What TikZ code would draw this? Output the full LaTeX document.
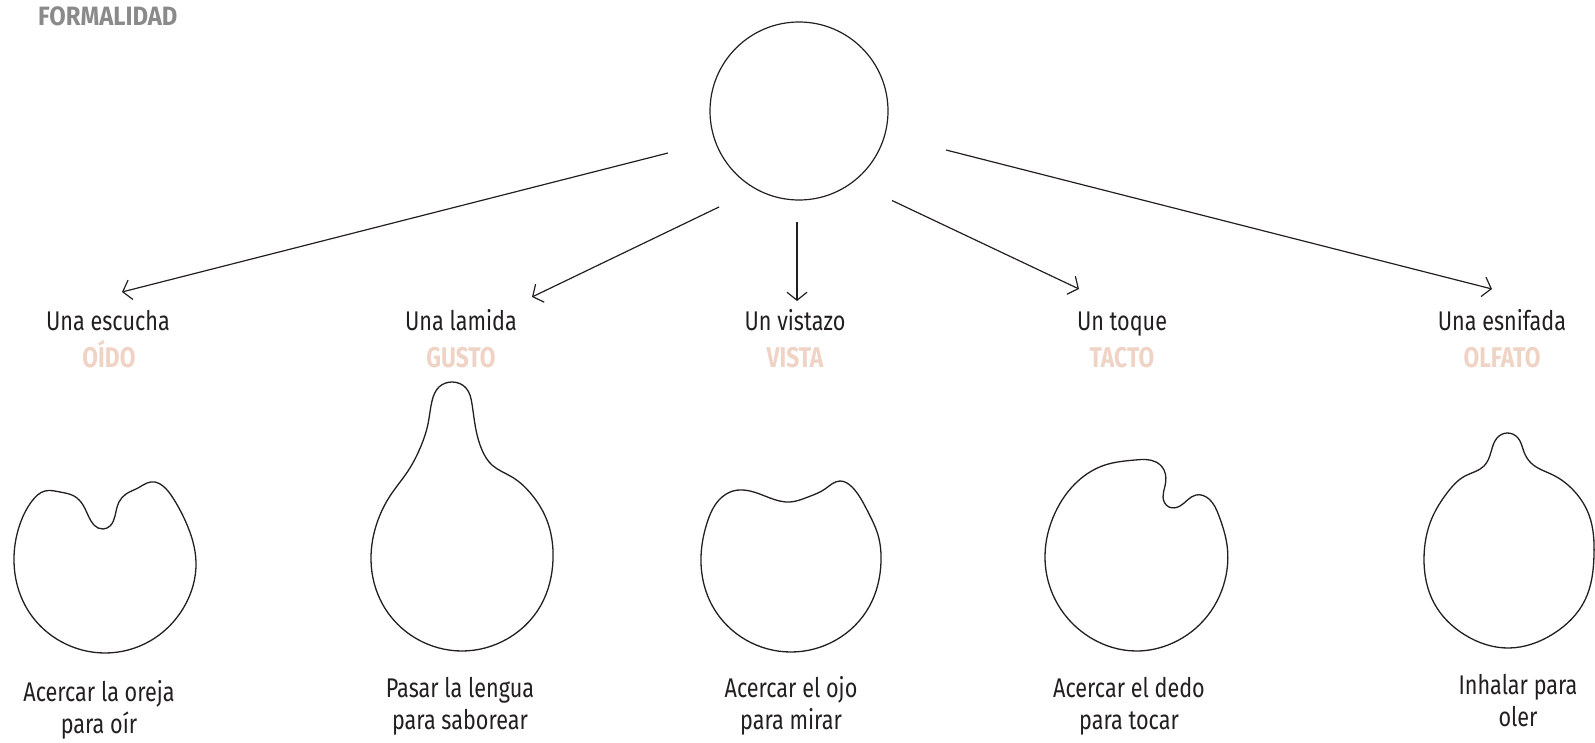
\documentclass[tikz,border=0pt]{standalone}
\usepackage{fontspec}
\setmainfont{Fira Sans}[FakeStretch=0.8]
\newfontfamily\titlefont{Fira Sans}[FakeStretch=0.9]
\usetikzlibrary{arrows.meta,hobby}
\definecolor{ink}{HTML}{231F20}
\definecolor{salmon}{HTML}{EFD3C5}
\definecolor{greytxt}{HTML}{8A8A8A}
\tikzset{
  lbl/.style={anchor=base, text=ink, inner sep=0pt, font=\fontsize{27}{32}\selectfont},
  sense/.style={anchor=base, text=salmon, inner sep=0pt, font=\fontsize{28.5}{32}\selectfont\bfseries},
  desc/.style={anchor=base, text=ink, inner sep=0pt, align=center, font=\fontsize{27}{32}\selectfont},
  conn/.style={draw=ink, line width=1.2pt, -{Straight Barb[length=8pt,width=20pt,line width=1.2pt]}},
  blob/.style={draw=ink, line width=1.3pt},
}
\begin{document}
\begin{tikzpicture}[x=1pt,y=-1pt]
\useasboundingbox (0,0) rectangle (1595,743);
\node[anchor=base west, text=greytxt, inner sep=0pt, font=\fontsize{26.5}{30}\titlefont\bfseries] (title) at (38,26) {FORMALIDAD};
\node[circle, draw=ink, line width=1.2pt, minimum size=178pt, inner sep=0pt] (top) at (799,111) {};
% labels
\node[lbl] (l1) at (108,330) {Una escucha};
\node[lbl] (l2) at (461,330) {Una lamida};
\node[lbl] (l3) at (795,330) {Un vistazo};
\node[lbl] (l4) at (1122,330) {Un toque};
\node[lbl] (l5) at (1502,330) {Una esnifada};
\node[sense] (s1) at (109,367) {OÍDO};
\node[sense] (s2) at (461,367) {GUSTO};
\node[sense] (s3) at (795,367) {VISTA};
\node[sense] (s4) at (1122,367) {TACTO};
\node[sense] (s5) at (1502,367) {OLFATO};
\node[desc] (d1) at (99,733) {Acercar la oreja\\para oír};
\node[desc] (d2) at (460,729) {Pasar la lengua\\para saborear};
\node[desc] (d3) at (791,729) {Acercar el ojo\\para mirar};
\node[desc] (d4) at (1129,729) {Acercar el dedo\\para tocar};
\node[desc] (d5) at (1518,726) {Inhalar para\\oler};
% connectors
\coordinate (a1s) at (668,153); \coordinate (a1e) at (122,292);
\coordinate (a2s) at (719,207); \coordinate (a2e) at (532,297);
\coordinate (a3s) at (797,222); \coordinate (a3e) at (797,301);
\coordinate (a4s) at (892,200.5); \coordinate (a4e) at (1079,289);
\coordinate (a5s) at (946,150); \coordinate (a5e) at (1492,289);
\draw[conn] (a1s) -- (a1e);
\draw[conn] (a2s) -- (a2e);
\draw[conn] (a3s) -- (a3e);
\draw[conn] (a4s) -- (a4e);
\draw[conn] (a5s) -- (a5e);
% shapes
\draw[blob] plot[closed hobby] coordinates {
 (14,562) (20,524) (32,501) (45,491) (60,492) (74,496) (83,505) (91,521) (98,528) (103,529) (110,526) (115,516) (119,502) (126,494) (138,488) (147,483) (155,482) (163,486) (173,498) (184,518) (193,542) (196,562) (184,607) (150,641) (105,653) (60,641) (26,607)};
\draw[blob] plot[closed hobby] coordinates {
 (452,382) (466,388) (472,404) (476,430) (482,450) (492,465) (512,477) (532,495) (546,518) (553,560) (541,605) (507,639) (462,651) (417,639) (383,605) (371,560) (378,520) (390,496) (408,471) (421,446) (428,424) (432,401) (439,387)};
\draw[blob] plot[closed hobby] coordinates {
 (701,557) (707,523) (719,500) (733,491) (750,491) (770,498) (790,502) (808,497) (825,489) (840,481) (852,487) (867,510) (878,535) (881,562) (869,607) (836,640) (791,652) (746,640) (713,607)};
\draw[blob] plot[closed hobby] coordinates {
 (1135,460) (1156,462) (1164,470) (1165,486) (1163,497) (1169,507) (1180,506) (1196,495) (1209,499) (1219,516) (1227,545) (1225,580) (1204,620) (1168,645) (1136,651) (1091,638) (1057,603) (1045,556) (1055,513) (1078,481) (1105,465)};
\draw[blob] plot[closed hobby] coordinates {
 (1507,433) (1518,438) (1524,452) (1531,463) (1553,475) (1575,492) (1589,515) (1594,555) (1585,600) (1553,634) (1509,648) (1465,635) (1434,603) (1424,558) (1432,518) (1447,493) (1465,476) (1484,466) (1491,452) (1497,438)};
\end{tikzpicture}
\end{document}
